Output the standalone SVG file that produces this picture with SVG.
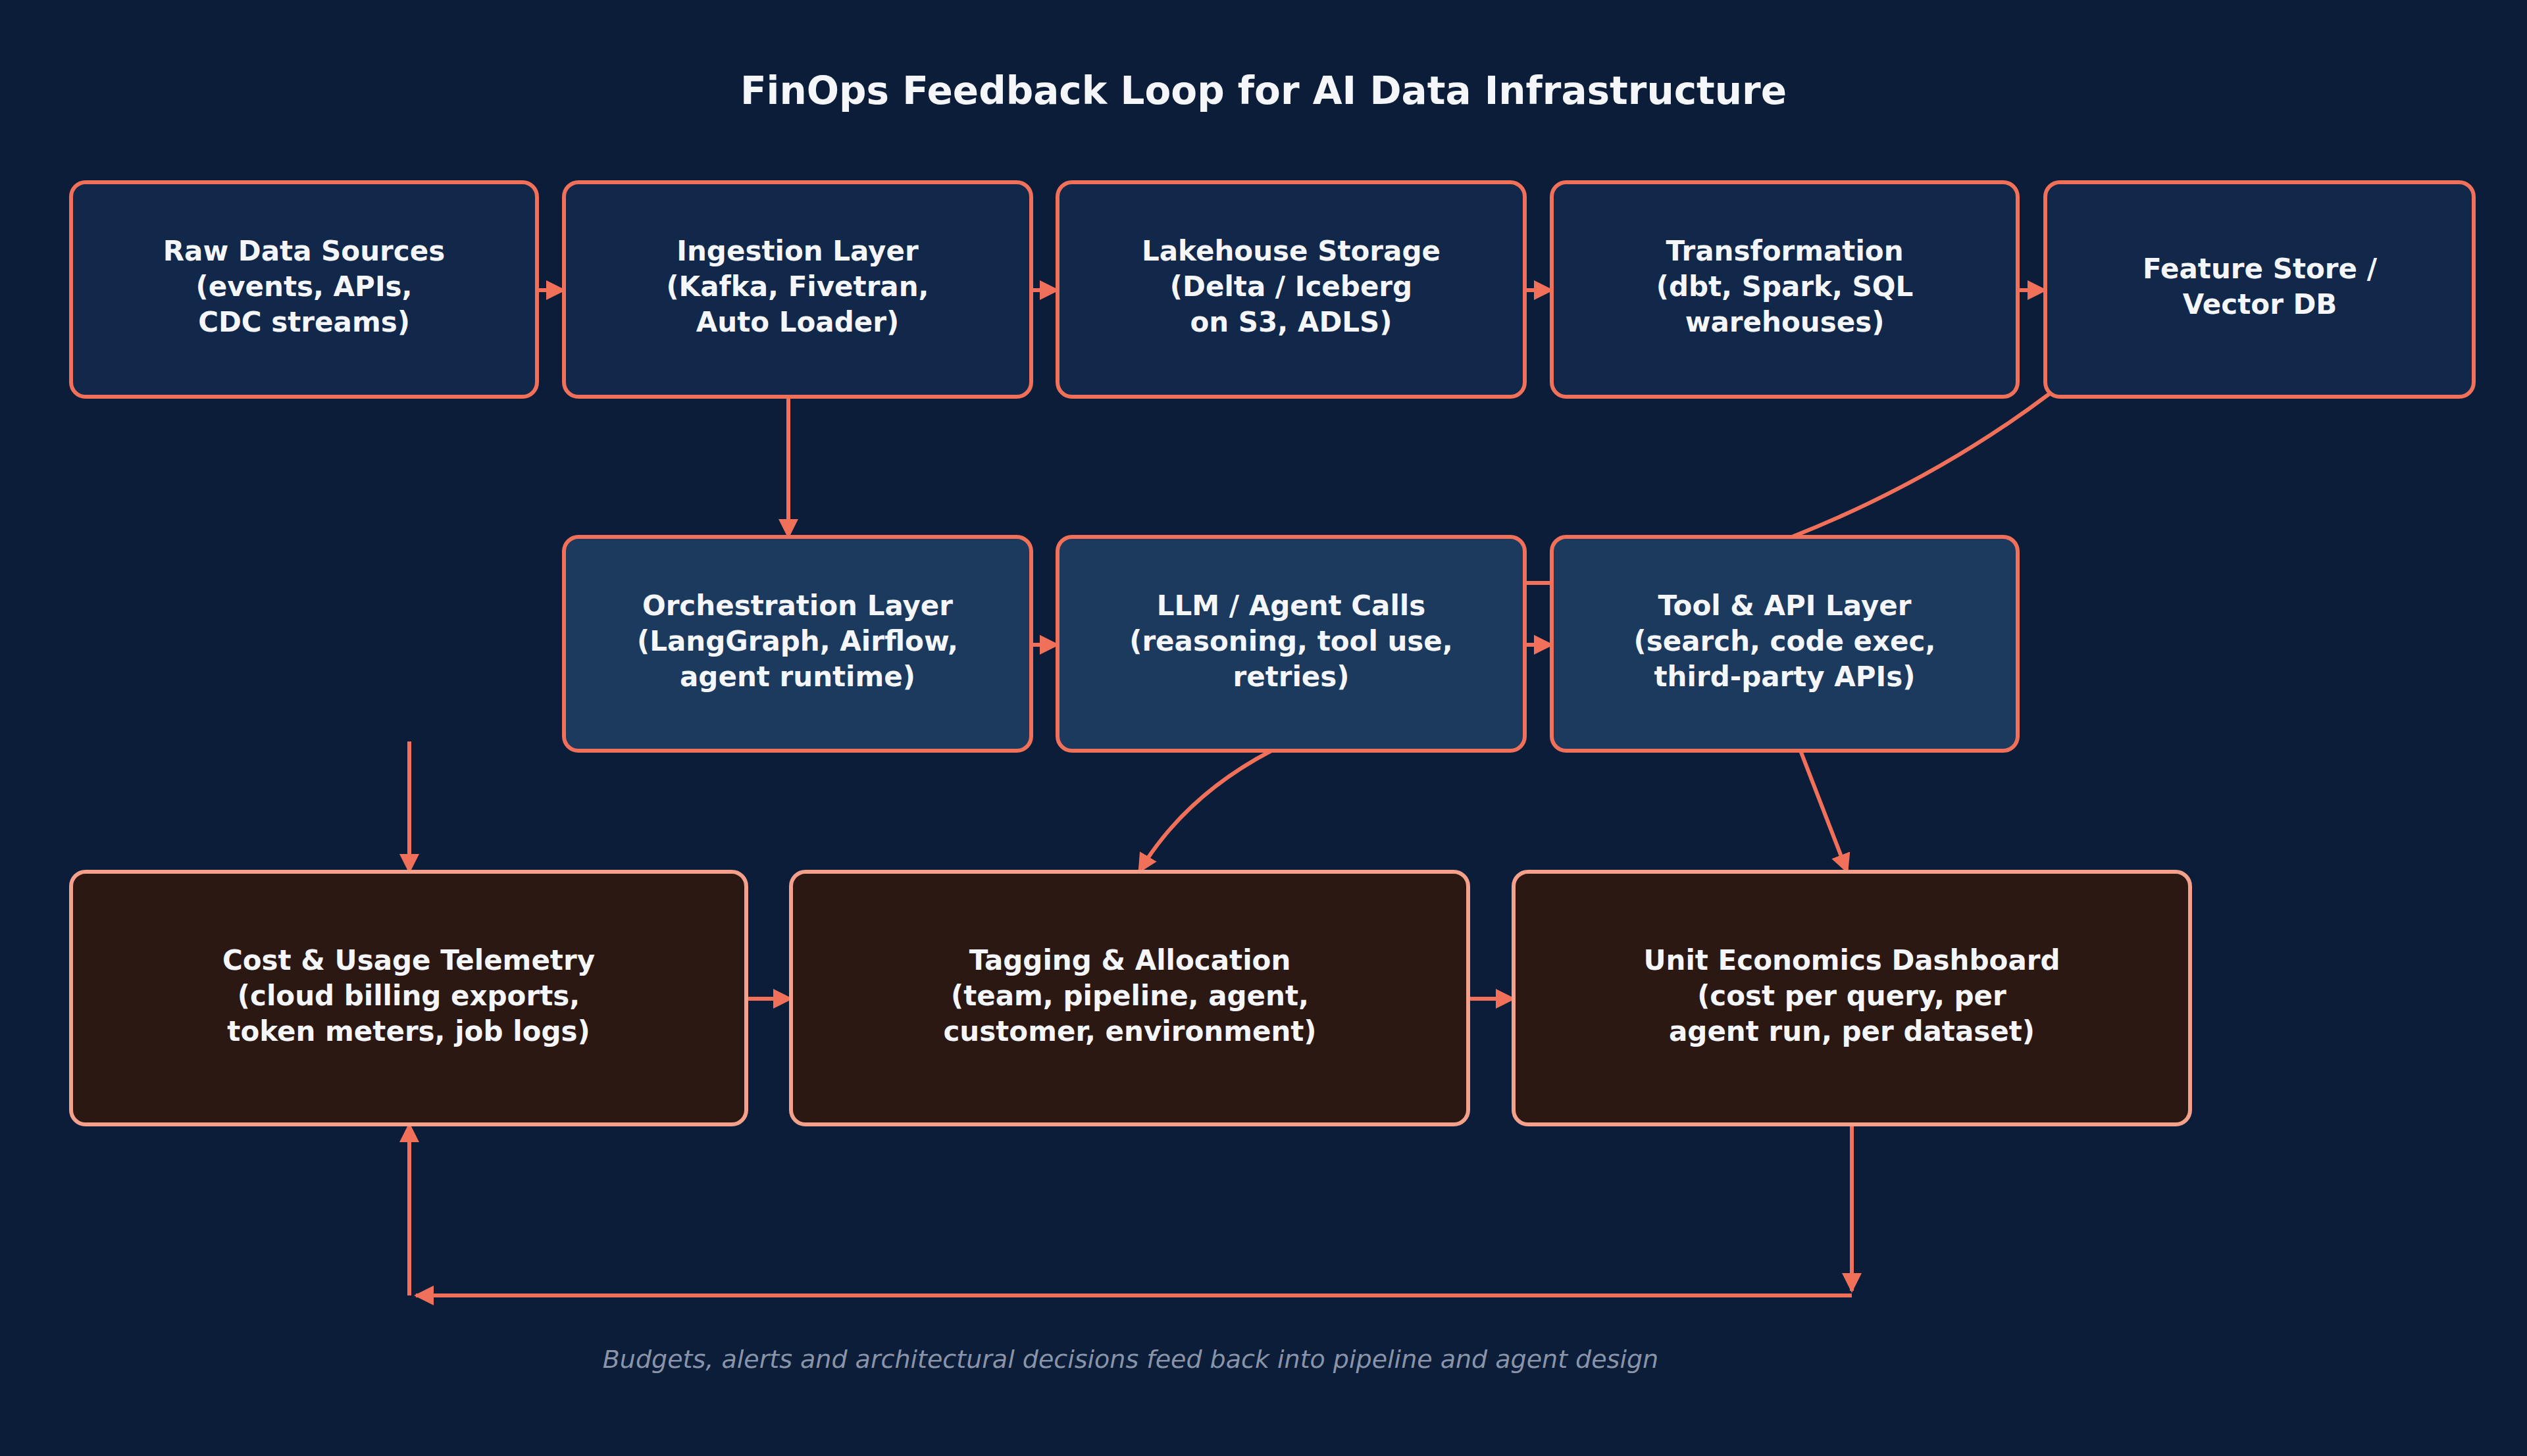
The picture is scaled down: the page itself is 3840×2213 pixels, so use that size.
<svg xmlns="http://www.w3.org/2000/svg" width="3840" height="2213" viewBox="0 0 3840 2213">
<style>
.n1{fill:#12284a;stroke:#f0705a;stroke-width:6}
.n2{fill:#1c3a5e;stroke:#f0705a;stroke-width:6}
.n3{fill:#2b1812;stroke:#f4a08a;stroke-width:6}
.t{font-family:"DejaVu Sans",sans-serif;font-weight:bold;font-size:42px;fill:#f4f6fa;text-anchor:middle}
.c{fill:none;stroke:#f0705a;stroke-width:6}
</style>
<defs><marker id="a" viewBox="0 0 10 10" refX="9" refY="5" markerWidth="5" markerHeight="5" orient="auto"><path d="M0,0L10,5L0,10z" fill="#f0705a"/></marker></defs>
<rect width="3840" height="2213" fill="#0b1d38"/>
<text x="1920" y="158" font-family="DejaVu Sans,sans-serif" font-weight="bold" font-size="58" fill="#f4f6fa" text-anchor="middle">FinOps Feedback Loop for AI Data Infrastructure</text>
<g id="connectors">
<path class="c" marker-end="url(#a)" d="M816 441H857"/>
<path class="c" marker-end="url(#a)" d="M1567 441H1607"/>
<path class="c" marker-end="url(#a)" d="M2317 441H2358"/>
<path class="c" marker-end="url(#a)" d="M3066 441H3108"/>
<path class="c" marker-end="url(#a)" d="M1198 603V816"/>
<path class="c" d="M3115 598Q2940 730 2723 816"/>
<path class="c" d="M2317 886H2358"/>
<path class="c" marker-end="url(#a)" d="M1567 980H1607"/>
<path class="c" marker-end="url(#a)" d="M2317 980H2358"/>
<path class="c" marker-end="url(#a)" d="M622 1127V1325"/>
<path class="c" marker-end="url(#a)" d="M1932 1141Q1800 1210 1731 1325"/>
<path class="c" marker-end="url(#a)" d="M2736 1141L2807 1325"/>
<path class="c" marker-end="url(#a)" d="M1134 1518H1202"/>
<path class="c" marker-end="url(#a)" d="M2231 1518H2300"/>
<path class="c" marker-end="url(#a)" d="M2814 1709V1962"/>
<path class="c" marker-end="url(#a)" d="M2814 1969H632"/>
<path class="c" marker-end="url(#a)" d="M622 1969V1709"/>
</g>
<g id="raw"><rect class="n1" x="108" y="277" width="708" height="326" rx="22"/><text class="t"><tspan x="462" y="396">Raw Data Sources</tspan><tspan x="462" y="450">(events, APIs,</tspan><tspan x="462" y="504">CDC streams)</tspan></text></g>
<g id="ingest"><rect class="n1" x="857" y="277" width="710" height="326" rx="22"/><text class="t"><tspan x="1212" y="396">Ingestion Layer</tspan><tspan x="1212" y="450">(Kafka, Fivetran,</tspan><tspan x="1212" y="504">Auto Loader)</tspan></text></g>
<g id="lake"><rect class="n1" x="1607" y="277" width="710" height="326" rx="22"/><text class="t"><tspan x="1962" y="396">Lakehouse Storage</tspan><tspan x="1962" y="450">(Delta / Iceberg</tspan><tspan x="1962" y="504">on S3, ADLS)</tspan></text></g>
<g id="transform"><rect class="n1" x="2358" y="277" width="708" height="326" rx="22"/><text class="t"><tspan x="2712" y="396">Transformation</tspan><tspan x="2712" y="450">(dbt, Spark, SQL</tspan><tspan x="2712" y="504">warehouses)</tspan></text></g>
<g id="feature"><rect class="n1" x="3108" y="277" width="651" height="326" rx="22"/><text class="t"><tspan x="3434" y="423">Feature Store /</tspan><tspan x="3434" y="477">Vector DB</tspan></text></g>
<g id="orch"><rect class="n2" x="857" y="816" width="710" height="325" rx="22"/><text class="t"><tspan x="1212" y="935">Orchestration Layer</tspan><tspan x="1212" y="989">(LangGraph, Airflow,</tspan><tspan x="1212" y="1043">agent runtime)</tspan></text></g>
<g id="llm"><rect class="n2" x="1607" y="816" width="710" height="325" rx="22"/><text class="t"><tspan x="1962" y="935">LLM / Agent Calls</tspan><tspan x="1962" y="989">(reasoning, tool use,</tspan><tspan x="1962" y="1043">retries)</tspan></text></g>
<g id="tool"><rect class="n2" x="2358" y="816" width="708" height="325" rx="22"/><text class="t"><tspan x="2712" y="935">Tool &amp; API Layer</tspan><tspan x="2712" y="989">(search, code exec,</tspan><tspan x="2712" y="1043">third-party APIs)</tspan></text></g>
<g id="telemetry"><rect class="n3" x="108" y="1325" width="1026" height="384" rx="22"/><text class="t"><tspan x="621" y="1474">Cost &amp; Usage Telemetry</tspan><tspan x="621" y="1528">(cloud billing exports,</tspan><tspan x="621" y="1582">token meters, job logs)</tspan></text></g>
<g id="tagging"><rect class="n3" x="1202" y="1325" width="1029" height="384" rx="22"/><text class="t"><tspan x="1717" y="1474">Tagging &amp; Allocation</tspan><tspan x="1717" y="1528">(team, pipeline, agent,</tspan><tspan x="1717" y="1582">customer, environment)</tspan></text></g>
<g id="unit"><rect class="n3" x="2300" y="1325" width="1028" height="384" rx="22"/><text class="t"><tspan x="2814" y="1474">Unit Economics Dashboard</tspan><tspan x="2814" y="1528">(cost per query, per</tspan><tspan x="2814" y="1582">agent run, per dataset)</tspan></text></g>
<text x="1718" y="2079" font-family="DejaVu Sans,sans-serif" font-style="italic" font-size="38" fill="#8a94a8" text-anchor="middle">Budgets, alerts and architectural decisions feed back into pipeline and agent design</text>
</svg>
